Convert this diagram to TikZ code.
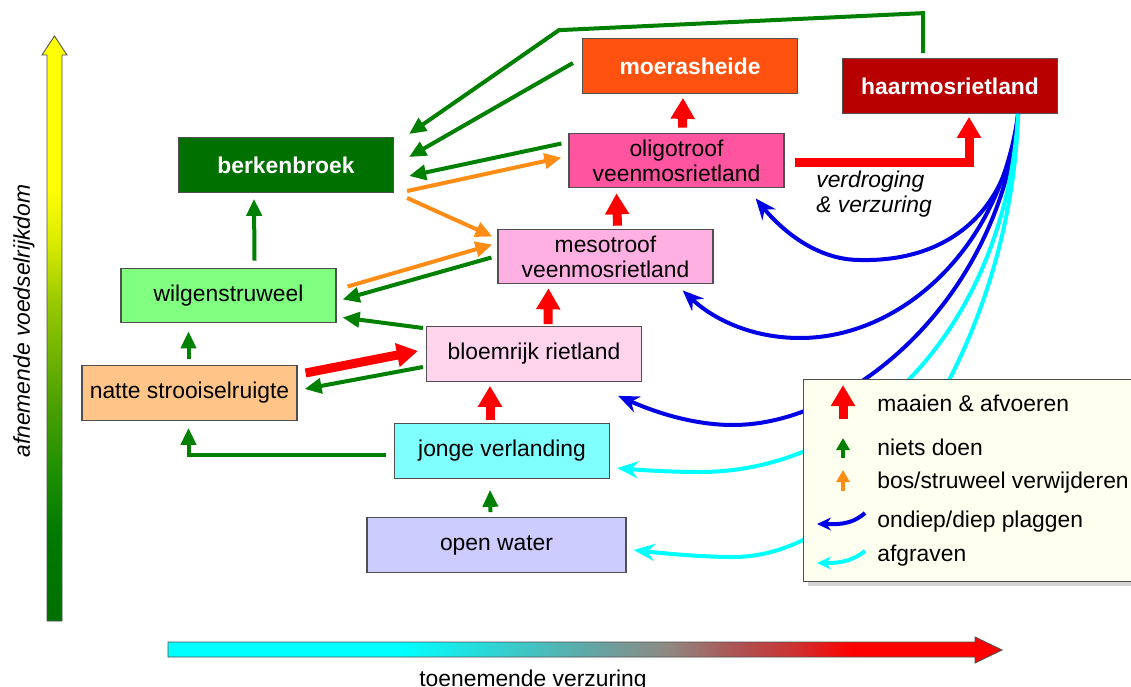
\documentclass[tikz,border=0pt]{standalone}
\usepackage{fontspec}
\setmainfont{Liberation Sans}
\usetikzlibrary{arrows.meta,calc,shadows}

\definecolor{boxline}{RGB}{80,80,80}
\definecolor{moerasfill}{RGB}{255,82,16}
\definecolor{haarmosfill}{RGB}{184,0,0}
\definecolor{berkenfill}{RGB}{0,112,0}
\definecolor{oligofill}{RGB}{255,85,160}
\definecolor{mesofill}{RGB}{255,176,226}
\definecolor{wilgenfill}{RGB}{128,255,128}
\definecolor{nattefill}{RGB}{255,196,136}
\definecolor{bloemfill}{RGB}{255,212,236}
\definecolor{jongefill}{RGB}{128,255,255}
\definecolor{openfill}{RGB}{204,204,255}
\definecolor{legendfill}{RGB}{255,255,240}
\definecolor{nietsgreen}{RGB}{0,128,0}
\definecolor{bosorange}{RGB}{255,140,20}
\definecolor{maaired}{RGB}{255,0,0}
\definecolor{plagblue}{RGB}{0,0,230}
\definecolor{graafcyan}{RGB}{0,255,255}
\definecolor{foodlow}{RGB}{0,112,0}
\definecolor{food1}{RGB}{0,122,0}
\definecolor{food2}{RGB}{32,144,0}
\definecolor{food3}{RGB}{80,162,0}
\definecolor{food4}{RGB}{150,200,0}
\definecolor{food5}{RGB}{220,236,0}
\definecolor{acid1}{RGB}{96,168,168}
\definecolor{acid2}{RGB}{144,136,130}
\definecolor{acid3}{RGB}{172,84,84}
\definecolor{acid4}{RGB}{204,50,50}

\pgfdeclareverticalshading{foodshade}{100bp}{color(0bp)=(foodlow); color(25bp)=(foodlow); color(32.5bp)=(food1); color(38bp)=(food2); color(44bp)=(food3); color(52bp)=(food4); color(57.5bp)=(food5); color(62bp)=(yellow); color(100bp)=(yellow)}
\pgfdeclarehorizontalshading{acidshade}{100bp}{color(0bp)=(cyan); color(39bp)=(cyan); color(50bp)=(acid1); color(55bp)=(acid2); color(59bp)=(acid3); color(62.5bp)=(acid4); color(66bp)=(red); color(100bp)=(red)}

\newcommand{\boxfont}{\fontsize{13}{14.2}\selectfont}

\tikzset{
    stage/.style={draw=boxline, line width=0.7pt, minimum width=4.3cm, minimum height=1.09cm,
        inner sep=0pt, align=center, font=\boxfont},
    darkstage/.style={stage, text=white, font=\boxfont\bfseries},
    niets/.style={draw=nietsgreen, line width=0.08cm, -{Triangle[length=0.34cm,width=0.3cm]}},
    bos/.style={draw=bosorange, line width=0.08cm, -{Triangle[length=0.34cm,width=0.3cm]}},
    maai/.style={draw=maaired, line width=0.18cm, -{Triangle[length=0.42cm,width=0.46cm]}},
    plag/.style={draw=plagblue, line width=0.08cm, -{Stealth[length=0.42cm,width=0.34cm]}},
    graaf/.style={plag, draw=graafcyan}
}

\begin{document}
\begin{tikzpicture}[x=0.02cm, y=-0.02cm]
    \useasboundingbox (0,0) rectangle (1131,686);
    \clip (0,0) rectangle (1131,686);

    \shadedraw[shading=foodshade, draw=boxline, line width=0.5pt] (47,621) -- (47,55) -- (42,55) -- (54.5,36) -- (67,55) -- (62,55) -- (62,621) -- cycle;
    \node (foodlbl) [rotate=90, anchor=base, inner sep=0pt, font=\boxfont\itshape] at (30,321) {afnemende voedselrijkdom};
    \shadedraw[shading=acidshade, draw=boxline, line width=0.5pt] (168,642) -- (975,642) -- (975,637) -- (1002,650) -- (975,663) -- (975,657) -- (168,657) -- cycle;
    \node (acidlbl) [anchor=base, inner sep=0pt, font=\boxfont] at (533,686) {toenemende verzuring};

    \node (moeras) [darkstage, fill=moerasfill] at (690,66) {moerasheide};
    \node (haarmos) [darkstage, fill=haarmosfill] at (950,86) {haarmosrietland};
    \node (berken) [darkstage, fill=berkenfill] at (286,165) {berkenbroek};
    \node (oligo) [stage, fill=oligofill] at (676.5,160.5) {oligotroof\\veenmosrietland};
    \node (meso) [stage, fill=mesofill] at (605.5,256.5) {mesotroof\\veenmosrietland};
    \node (wilgen) [stage, fill=wilgenfill] at (228.5,295.5) {wilgenstruweel};
    \node (natte) [stage, fill=nattefill] at (189.5,393) {natte strooiselruigte};
    \node (bloem) [stage, fill=bloemfill] at (534,354) {bloemrijk rietland};
    \node (jonge) [stage, fill=jongefill] at (502,451) {jonge verlanding};
    \node (open) [stage, fill=openfill, minimum width=5.18cm] at (496.5,545) {open water};
    \node (dryacid) [anchor=north west, inner sep=0pt, align=left, font=\boxfont\itshape] at (816,171) {verdroging\\\& verzuring};

    \draw[niets] ($(wilgen.north)+(26,-7)$) -- ($(berken.south)+(-32,6)$);
    \draw[niets] ($(natte.north)+(-1,-6)$) -- ($(wilgen.south)+(-40,8)$);
    \draw[niets] ($(jonge.west)+(-8,4)$) -| ($(natte.south)+(-1,7)$);
    \draw[niets] ($(open.north)+(-6,-5)$) -- ($(jonge.south)+(-12,11)$);
    \draw[niets] ($(haarmos.north)+(-27,-5)$) -- ++(0,-40) -- ++(-364,17) -- ($(berken.east)+(15,-31)$);
    \draw[niets] ($(moeras.west)+(-9,-3)$) -- ($(berken.east)+(15,-8)$);
    \draw[niets] ($(oligo.west)+(-7,-17)$) -- ($(berken.east)+(15,11)$);
    \draw[niets] ($(meso.west)+(-6,1)$) -- ($(wilgen.east)+(6,4)$);
    \draw[niets] ($(bloem.west)+(-3,-26)$) -- ($(wilgen.east)+(6,22)$);
    \draw[niets] ($(bloem.west)+(-3,13)$) -- ($(natte.east)+(7,-4)$);

    \draw[bos] ($(berken.east)+(13,26)$) -- ($(oligo.west)+(-7,-3)$);
    \draw[bos] ($(berken.east)+(13,33)$) -- ($(meso.west)+(-5,-20)$);
    \draw[bos] ($(wilgen.east)+(11,-9)$) -- ($(meso.west)+(-5,-12)$);

    \draw[maai] ($(oligo.north)+(6,-5)$) -- ($(moeras.south)+(-7,4)$);
    \draw[maai] ($(meso.north)+(12,-3)$) -- ($(oligo.south)+(-60,5)$);
    \draw[maai] ($(bloem.north)+(14,-2)$) -- ($(meso.south)+(-57,4)$);
    \draw[maai] ($(jonge.north)+(-12,-3)$) -- ($(bloem.south)+(-44,4)$);
    \draw[maai] ($(natte.east)+(8,-20)$) -- ($(bloem.west)+(-8,-3)$);
    \draw[maai] ($(oligo.east)+(10,2)$) -| ($(haarmos.south)+(19,3)$);

    \coordinate (plagsrc) at ($(haarmos.south east)+(-40,0)$);
    \draw[plag] (plagsrc) .. controls (1010,215) and (945,262) .. (860,260) .. controls (815,260) and (780,228) .. ($(oligo.south east)+(-29,10)$);
    \draw[plag] (plagsrc) .. controls (1000,250) and (900,338) .. (800,338) .. controls (750,338) and (712,318) .. ($(meso.south east)+(-31,6)$);
    \draw[plag] (plagsrc) .. controls (1000,300) and (850,425) .. (733,425) .. controls (690,425) and (650,410) .. ($(bloem.south east)+(-24,14)$);
    \draw[graaf] (plagsrc) .. controls (1005,330) and (860,472) .. (700,472) .. controls (670,472) and (640,470) .. ($(jonge.east)+(7,17)$);
    \draw[graaf] (plagsrc) .. controls (1012,330) and (880,557) .. (733,557) .. controls (700,557) and (660,553) .. ($(open.east)+(7,5)$);

    \node (legend) [anchor=north west, draw=boxline, line width=0.7pt, fill=legendfill, minimum width=6.96cm, minimum height=4.04cm,
        drop shadow={shadow xshift=0.08cm, shadow yshift=-0.08cm, opacity=0.35}] at (803,379) {};
    \draw[maai] (843,419) -- (843,385);
    \draw[niets, -{Triangle[length=0.24cm,width=0.26cm]}] (843,458) -- (843,438);
    \draw[bos, -{Triangle[length=0.24cm,width=0.26cm]}] (843,491) -- (843,470);
    \draw[plag, -{Stealth[length=0.28cm,width=0.26cm]}] (865,513) .. controls (850,526) and (835,524) .. (817,524);
    \draw[graaf, -{Stealth[length=0.28cm,width=0.26cm]}] (865,551) .. controls (850,563) and (835,563) .. (817,563);
    \foreach \y/\txt [count=\i] in {411/maaien \& afvoeren, 455/niets doen, 488/{bos/struweel verwijderen}, 527/{ondiep/diep plaggen}, 561/afgraven}
        \node (lab\i) [anchor=base west, inner sep=0pt, font=\boxfont] at (877,\y) {\txt};
\end{tikzpicture}
\end{document}
